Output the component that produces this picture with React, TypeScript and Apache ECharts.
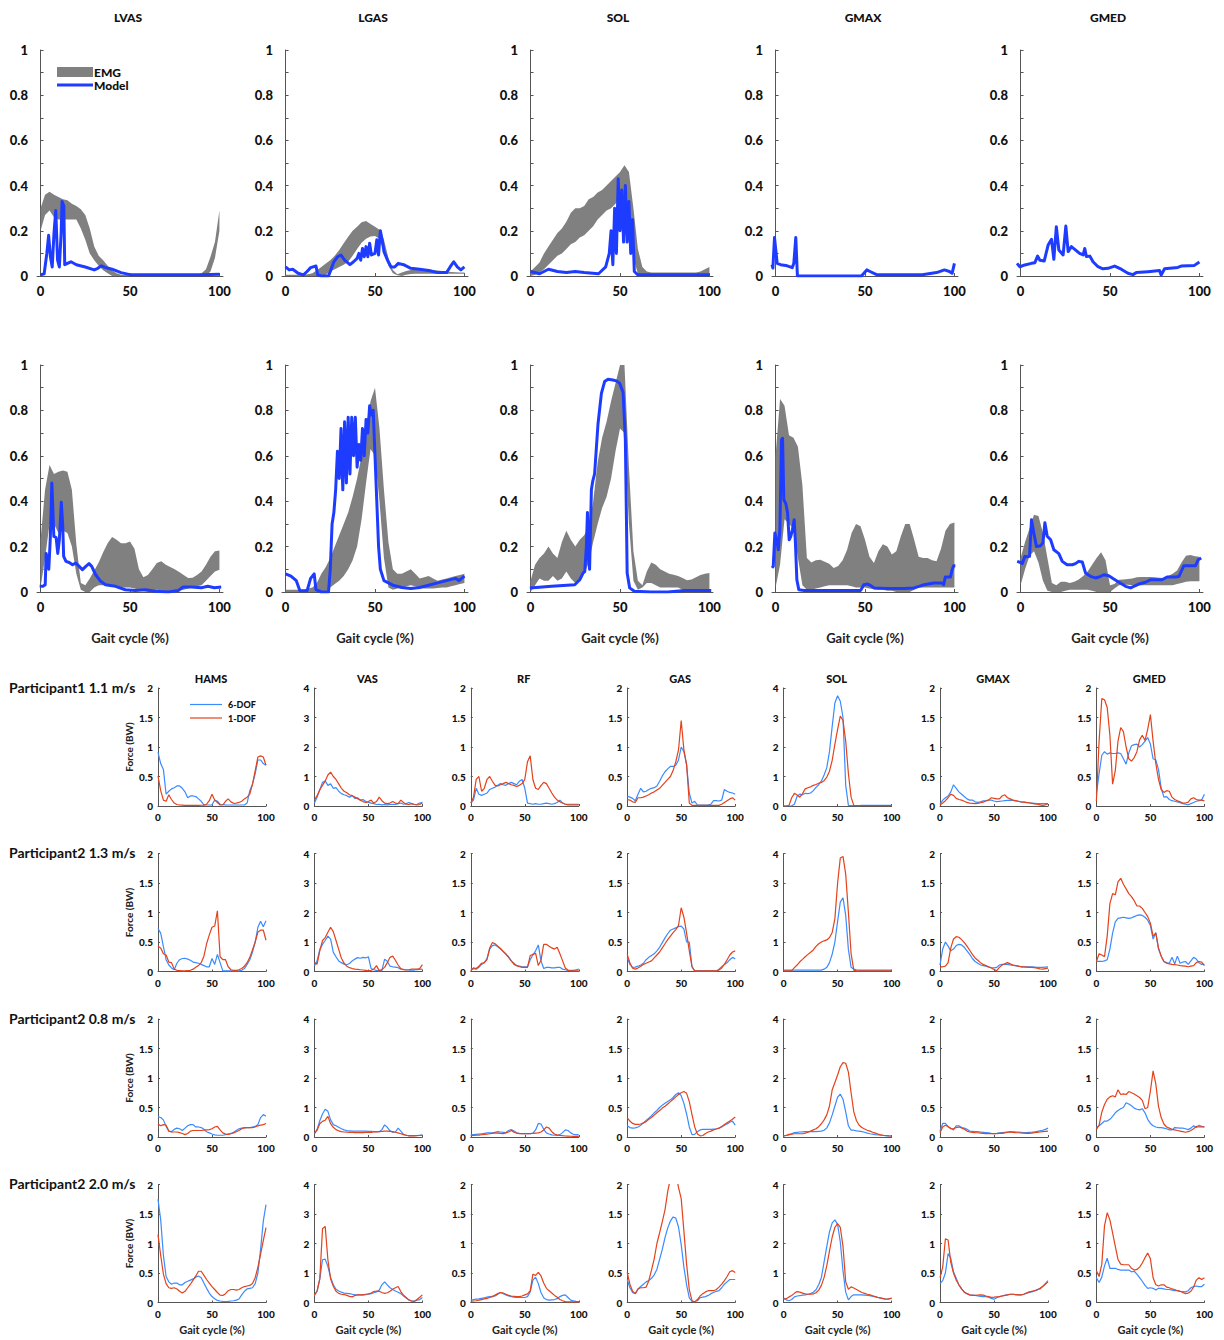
import React, { useEffect, useRef } from "react";
import * as echarts from "echarts";

// ---------- shared x grid (gait cycle %) ----------
const X_PCT = [0, 2.5, 5, 7.5, 10, 12.5, 15, 17.5, 20, 22.5, 25, 27.5, 30, 32.5, 35, 37.5, 40, 42.5, 45, 47.5, 50, 52.5, 55, 57.5, 60, 62.5, 65, 67.5, 70, 72.5, 75, 77.5, 80, 82.5, 85, 87.5, 90, 92.5, 95, 97.5, 100];

// ---------- labels ----------
const TOP_TITLES = ["LVAS", "LGAS", "SOL", "GMAX", "GMED"];
const BOTTOM_TITLES = ["HAMS", "VAS", "RF", "GAS", "SOL", "GMAX", "GMED"];
const ROW_LABELS = ["Participant1 1.1 m/s", "Participant2 1.3 m/s", "Participant2 0.8 m/s", "Participant2 2.0 m/s"];
const BOTTOM_YMAX = [2, 4, 2, 2, 4, 2, 2];
const TOP_Y_TICKS = [0, 0.2, 0.4, 0.6, 0.8, 1];
const X_TICKS = [0, 50, 100];

// ---------- top: EMG bands (upper/lower) ----------
const lvas1Hi = [0.30, 0.36, 0.373, 0.36, 0.35, 0.34, 0.335, 0.32, 0.31, 0.295, 0.27, 0.21, 0.13, 0.09, 0.07, 0.045, 0.025, 0.012, 0.006, 0.004, 0.004, 0.004, 0.004, 0.004, 0.005, 0.006, 0.006, 0.005, 0.004, 0.004, 0.004, 0.004, 0.004, 0.004, 0.004, 0.006, 0.012, 0.03, 0.085, 0.15, 0.29];
const lvas1Lo = [0.2, 0.27, 0.29, 0.26, 0.25, 0.25, 0.25, 0.25, 0.25, 0.21, 0.16, 0.1, 0.07, 0.045, 0.025, 0.012, 0, 0, 0, 0, 0, 0, 0, 0, 0, 0, 0, 0, 0, 0, 0, 0, 0, 0, 0, 0, 0, 0, 0.02, 0.08, 0.2];
const lgas1Hi = [0.005, 0.005, 0.005, 0.005, 0.006, 0.008, 0.012, 0.025, 0.04, 0.055, 0.07, 0.09, 0.115, 0.145, 0.174, 0.2, 0.218, 0.238, 0.243, 0.23, 0.218, 0.205, 0.16, 0.08, 0.027, 0.008, 0.015, 0.022, 0.027, 0.029, 0.03, 0.03, 0.03, 0.027, 0.024, 0.022, 0.02, 0.018, 0.017, 0.016, 0.015];
const lgas1Lo = [0, 0, 0, 0, 0, 0, 0, 0, 0, 0.005, 0.02, 0.03, 0.04, 0.05, 0.063, 0.09, 0.12, 0.147, 0.165, 0.175, 0.177, 0.165, 0.108, 0.045, 0.012, 0.003, 0, 0.005, 0.009, 0.01, 0.01, 0.01, 0.01, 0.01, 0.01, 0.01, 0.01, 0.01, 0.01, 0.01, 0.01];
const sol1Hi = [0.02, 0.04, 0.06, 0.1, 0.13, 0.16, 0.19, 0.21, 0.24, 0.28, 0.3, 0.3, 0.31, 0.34, 0.35, 0.37, 0.38, 0.4, 0.42, 0.44, 0.46, 0.49, 0.46, 0.3, 0.12, 0.04, 0.02, 0.015, 0.015, 0.015, 0.015, 0.015, 0.015, 0.015, 0.015, 0.015, 0.015, 0.015, 0.02, 0.03, 0.04];
const sol1Lo = [0, 0.005, 0.015, 0.03, 0.05, 0.07, 0.09, 0.1, 0.12, 0.14, 0.15, 0.17, 0.18, 0.2, 0.22, 0.25, 0.27, 0.29, 0.3, 0.32, 0.34, 0.33, 0.24, 0.08, 0.01, 0, 0, 0, 0, 0, 0, 0, 0, 0, 0, 0, 0, 0, 0.005, 0.008, 0.01];
const lvas2Hi = [0.23, 0.45, 0.56, 0.52, 0.53, 0.535, 0.53, 0.45, 0.21, 0.04, 0.03, 0.06, 0.095, 0.13, 0.175, 0.215, 0.242, 0.23, 0.215, 0.215, 0.223, 0.19, 0.1, 0.065, 0.075, 0.1, 0.128, 0.135, 0.12, 0.11, 0.1, 0.088, 0.075, 0.062, 0.063, 0.075, 0.09, 0.12, 0.155, 0.18, 0.183];
const lvas2Lo = [0.02, 0.15, 0.3, 0.3, 0.26, 0.27, 0.26, 0.2, 0.08, 0.01, 0, 0, 0.02, 0.03, 0.03, 0.03, 0.03, 0.025, 0.02, 0.02, 0.02, 0.015, 0.01, 0.005, 0, 0.005, 0.01, 0.005, 0, 0, 0.005, 0.008, 0.01, 0.015, 0.02, 0.025, 0.03, 0.05, 0.07, 0.09, 0.098];
const lgas2Hi = [0.01, 0.01, 0.01, 0.01, 0.01, 0.015, 0.02, 0.04, 0.08, 0.11, 0.15, 0.2, 0.25, 0.3, 0.35, 0.42, 0.5, 0.6, 0.72, 0.84, 0.9, 0.72, 0.45, 0.22, 0.1, 0.08, 0.08, 0.09, 0.1, 0.08, 0.06, 0.065, 0.07, 0.06, 0.05, 0.055, 0.06, 0.065, 0.07, 0.075, 0.08];
const lgas2Lo = [0, 0, 0, 0, 0, 0, 0, 0, 0, 0, 0.02, 0.035, 0.05, 0.07, 0.1, 0.14, 0.2, 0.32, 0.48, 0.63, 0.6, 0.4, 0.15, 0.02, 0.01, 0.015, 0.02, 0.025, 0.03, 0.025, 0.02, 0.015, 0.015, 0.015, 0.018, 0.02, 0.02, 0.025, 0.03, 0.035, 0.04];
const sol2Hi = [0.05, 0.12, 0.15, 0.17, 0.2, 0.17, 0.15, 0.22, 0.27, 0.23, 0.2, 0.23, 0.25, 0.29, 0.4, 0.57, 0.68, 0.75, 0.84, 0.92, 1.0, 1.0, 0.55, 0.18, 0.05, 0.03, 0.09, 0.13, 0.12, 0.1, 0.09, 0.08, 0.076, 0.07, 0.062, 0.052, 0.055, 0.065, 0.075, 0.08, 0.084];
const sol2Lo = [0, 0.03, 0.06, 0.05, 0.05, 0.07, 0.05, 0.06, 0.09, 0.06, 0.04, 0.05, 0.08, 0.13, 0.22, 0.3, 0.37, 0.42, 0.5, 0.62, 0.72, 0.7, 0.3, 0.05, 0.01, 0.02, 0.04, 0.04, 0.03, 0.02, 0.02, 0.02, 0.02, 0.02, 0.01, 0.005, 0.005, 0.005, 0.005, 0.005, 0.005];
const gmax2Hi = [0.6, 0.85, 0.82, 0.69, 0.68, 0.64, 0.47, 0.15, 0.13, 0.14, 0.142, 0.133, 0.125, 0.106, 0.115, 0.14, 0.186, 0.26, 0.3, 0.29, 0.23, 0.155, 0.128, 0.18, 0.21, 0.2, 0.165, 0.18, 0.245, 0.3, 0.3, 0.23, 0.155, 0.15, 0.15, 0.14, 0.135, 0.19, 0.27, 0.3, 0.306];
const gmax2Lo = [0.02, 0.12, 0.32, 0.3, 0.28, 0.15, 0.03, 0.01, 0.01, 0.015, 0.02, 0.025, 0.03, 0.03, 0.03, 0.03, 0.03, 0.025, 0.02, 0.02, 0.02, 0.015, 0.012, 0.01, 0.01, 0.005, 0.005, 0, 0, 0, 0, 0.01, 0.02, 0.02, 0.02, 0.02, 0.02, 0.02, 0.02, 0.02, 0.02];
const gmed2Hi = [0.15, 0.22, 0.28, 0.34, 0.335, 0.26, 0.15, 0.04, 0.03, 0.045, 0.045, 0.04, 0.045, 0.055, 0.07, 0.09, 0.12, 0.15, 0.175, 0.14, 0.03, 0.035, 0.054, 0.055, 0.057, 0.06, 0.065, 0.066, 0.066, 0.066, 0.065, 0.063, 0.062, 0.07, 0.08, 0.095, 0.13, 0.16, 0.163, 0.157, 0.155];
const gmed2Lo = [0.03, 0.1, 0.16, 0.18, 0.13, 0.05, 0.005, 0, 0, 0, 0.005, 0.01, 0.01, 0.01, 0.01, 0.01, 0.005, 0, 0, 0, 0, 0.015, 0.03, 0.032, 0.032, 0.03, 0.03, 0.03, 0.03, 0.03, 0.03, 0.03, 0.03, 0.03, 0.03, 0.035, 0.04, 0.045, 0.047, 0.047, 0.047];

// ---------- top: model activations [x, value] ----------
const lvas1Model = [[0, 0.005], [2, 0.01], [3.5, 0.1], [4.5, 0.18], [5.5, 0.085], [6.5, 0.04], [7.5, 0.19], [8.5, 0.29], [9.5, 0.07], [10.5, 0.04], [11.5, 0.19], [12, 0.33], [13, 0.31], [13.5, 0.05], [15, 0.056], [17, 0.063], [20, 0.05], [25, 0.04], [30, 0.027], [32, 0.034], [34, 0.045], [36, 0.038], [40, 0.03], [45, 0.015], [50, 0.006], [60, 0.005], [70, 0.005], [80, 0.005], [90, 0.006], [100, 0.008]];
const lgas1Model = [[0, 0.04], [2, 0.027], [4, 0.03], [7, 0.012], [10, 0.005], [12, 0.02], [14, 0.037], [17, 0.044], [18, 0.005], [20, 0], [24, 0], [25, 0.02], [27, 0.063], [29, 0.085], [31, 0.093], [33, 0.07], [36, 0.05], [38, 0.063], [40, 0.078], [41, 0.1], [42, 0.07], [43, 0.122], [44, 0.085], [45, 0.13], [46, 0.085], [47, 0.145], [48, 0.093], [50, 0.1], [51, 0.16], [52, 0.093], [53, 0.2], [54, 0.16], [55, 0.108], [57, 0.07], [59, 0.04], [61, 0.04], [63, 0.056], [66, 0.05], [70, 0.034], [75, 0.03], [80, 0.024], [85, 0.015], [90, 0.015], [92, 0.04], [94, 0.063], [96, 0.04], [98, 0.027], [100, 0.04]];
const sol1Model = [[0, 0.02], [5, 0.01], [10, 0.03], [15, 0.02], [20, 0.015], [25, 0.02], [30, 0.015], [38, 0.01], [42, 0.04], [44, 0.1], [45, 0.2], [46, 0.05], [47, 0.3], [48, 0.1], [49, 0.43], [50, 0.2], [51, 0.38], [52, 0.15], [53, 0.4], [54, 0.15], [55, 0.33], [56, 0.1], [57, 0.25], [58, 0.02], [60, 0.005], [100, 0.005]];
const gmax1Model = [[-2, 0.05], [-1.5, 0.035], [-0.6, 0.17], [0.9, 0.056], [2.8, 0.05], [6.5, 0.045], [9.3, 0.037], [10.2, 0.056], [11.3, 0.17], [12.2, 0], [48, 0], [51, 0.027], [52.8, 0.02], [56.5, 0.006], [82, 0.006], [90, 0.015], [94.4, 0.027], [97.2, 0.02], [98.7, 0.012], [100, 0.056]];
const gmed1Model = [[-2, 0.056], [-0.4, 0.041], [2.4, 0.049], [6.1, 0.056], [8, 0.059], [9.5, 0.088], [10.8, 0.07], [13.2, 0.066], [15.4, 0.137], [17.3, 0.162], [18.6, 0.074], [20, 0.218], [21.4, 0.115], [23.8, 0.093], [25.3, 0.221], [26.6, 0.108], [28.4, 0.13], [30.3, 0.118], [33, 0.1], [35, 0.093], [35.9, 0.122], [36.8, 0.086], [38.7, 0.088], [40.5, 0.063], [43.3, 0.041], [46, 0.032], [48.9, 0.034], [52.6, 0.044], [56.3, 0.03], [60, 0.012], [62.8, 0.006], [64.7, 0.015], [71.2, 0.019], [77.7, 0.024], [78.6, 0.004], [80.5, 0.032], [87.9, 0.038], [89.8, 0.044], [97.2, 0.047], [100, 0.062]];
const lvas2Model = [[-0.5, 0.025], [1.3, 0.025], [2.6, 0.032], [3.1, 0.17], [4, 0.14], [4.6, 0.1], [5.4, 0.23], [6.3, 0.48], [6.8, 0.38], [7.4, 0.245], [8.7, 0.24], [9.6, 0.17], [10.5, 0.23], [11.6, 0.395], [12.4, 0.29], [12.9, 0.157], [14.2, 0.135], [16, 0.13], [17.9, 0.12], [19.7, 0.128], [21.6, 0.113], [23.4, 0.098], [25.3, 0.113], [27.1, 0.125], [28.6, 0.113], [30.8, 0.076], [33.6, 0.047], [36.3, 0.032], [41.9, 0.025], [47.4, 0.01], [53, 0.007], [58.5, 0.01], [64, 0.003], [71.4, 0], [77, 0.007], [79.7, 0.022], [84.3, 0.022], [89.9, 0.019], [93.5, 0.025], [97.2, 0.019], [101, 0.022]];
const lgas2Model = [[0, 0.08], [3, 0.07], [6, 0.05], [8, 0.005], [12, 0.005], [14, 0.06], [16, 0.08], [17, 0.01], [20, 0], [24, 0], [25, 0.1], [26, 0.3], [27, 0.35], [28, 0.45], [29, 0.62], [30, 0.5], [31, 0.72], [32, 0.45], [33, 0.75], [34, 0.48], [35, 0.77], [36, 0.52], [37, 0.77], [38, 0.6], [39, 0.77], [40, 0.55], [41, 0.65], [42, 0.58], [43, 0.72], [44, 0.6], [45, 0.76], [46, 0.7], [47, 0.82], [48, 0.78], [49, 0.8], [50, 0.6], [51, 0.4], [52, 0.2], [53, 0.1], [55, 0.05], [60, 0.03], [65, 0.02], [70, 0.015], [75, 0.02], [80, 0.03], [85, 0.04], [90, 0.05], [95, 0.06], [97, 0.05], [100, 0.07]];
const sol2Model = [[-0.4, 0.018], [11.7, 0.025], [24.7, 0.032], [27.5, 0.054], [29.4, 0.084], [30.3, 0.09], [31.2, 0.2], [31.8, 0.35], [32.5, 0.14], [33, 0.1], [34, 0.45], [34.8, 0.49], [35.8, 0.52], [37.7, 0.74], [39.6, 0.875], [41.4, 0.927], [43.3, 0.937], [46, 0.934], [48, 0.93], [49.8, 0.92], [51.7, 0.88], [53, 0.67], [53.5, 0.38], [54, 0.084], [55.4, 0.018], [58, 0.003], [67.5, 0], [76.8, 0], [86, 0.007], [95.4, 0.007], [101, 0.007]];
const gmax2Model = [[-2, 0.106], [-1.3, 0.113], [-0.4, 0.26], [0.6, 0.23], [1.5, 0.186], [2.4, 0.274], [3.3, 0.67], [3.9, 0.677], [4.6, 0.406], [5.7, 0.39], [6.7, 0.35], [7.6, 0.23], [8.5, 0.245], [9.4, 0.274], [10.4, 0.318], [11.1, 0.215], [11.9, 0.054], [13, 0.01], [16, 0.007], [25.4, 0.007], [34.6, 0.007], [47.6, 0.007], [49.3, 0.032], [51.5, 0.035], [53.3, 0.028], [55.2, 0.018], [62.6, 0.015], [71.9, 0.015], [77.4, 0.018], [80.2, 0.025], [83, 0.032], [88.5, 0.04], [93, 0.04], [94, 0.032], [94.9, 0.066], [97.8, 0.066], [98.7, 0.098], [99.6, 0.116], [100.5, 0.116]];
const gmed2Model = [[-1.9, 0.135], [0, 0.13], [0.9, 0.125], [2.4, 0.157], [3.7, 0.155], [5, 0.157], [6.1, 0.318], [7.4, 0.26], [8.9, 0.2], [11.2, 0.204], [12.5, 0.217], [13.6, 0.305], [14.9, 0.246], [16.8, 0.23], [18.6, 0.186], [21.4, 0.169], [23.3, 0.135], [26, 0.12], [28.9, 0.12], [30.7, 0.125], [32.6, 0.135], [34.5, 0.132], [36.3, 0.084], [39.1, 0.069], [41.9, 0.062], [43.8, 0.066], [46.6, 0.076], [49.3, 0.072], [52.1, 0.057], [55, 0.043], [58.7, 0.025], [61.5, 0.018], [63.3, 0.025], [66.1, 0.035], [69.8, 0.043], [72.6, 0.054], [79.1, 0.054], [81.9, 0.066], [86.6, 0.066], [88.5, 0.068], [91.3, 0.116], [97.8, 0.116], [99.3, 0.142], [101, 0.15]];

// ---------- bottom: muscle forces (BW), 6-DOF and 1-DOF, on X_PCT ----------
// Participant1 1.1 m/s
const hams1Dof6 = [0.91, 0.72, 0.62, 0.2, 0.25, 0.29, 0.31, 0.34, 0.34, 0.3, 0.24, 0.14, 0.17, 0.17, 0.16, 0.12, 0.08, 0.02, 0.017, 0.017, 0.02, 0.1, 0.08, 0.03, 0.025, 0.02, 0.017, 0.017, 0.017, 0.017, 0.017, 0.017, 0.017, 0.05, 0.26, 0.37, 0.55, 0.78, 0.78, 0.72, 0.69];
const hams1Dof1 = [0.51, 0.26, 0.1, 0.08, 0.19, 0.11, 0.05, 0.025, 0.017, 0.015, 0.012, 0.011, 0.011, 0.011, 0.011, 0.012, 0.013, 0.015, 0.03, 0.09, 0.2, 0.1, 0.06, 0.017, 0.017, 0.08, 0.12, 0.07, 0.045, 0.05, 0.06, 0.08, 0.12, 0.15, 0.2, 0.37, 0.6, 0.83, 0.85, 0.83, 0.69];
const vas1Dof6 = [0.1, 0.3, 0.55, 0.8, 0.85, 0.7, 0.75, 0.6, 0.62, 0.5, 0.42, 0.38, 0.35, 0.3, 0.35, 0.25, 0.28, 0.2, 0.22, 0.15, 0.12, 0.1, 0.08, 0.05, 0.06, 0.04, 0.05, 0.04, 0.05, 0.06, 0.05, 0.08, 0.1, 0.06, 0.08, 0.12, 0.08, 0.05, 0.06, 0.1, 0.12];
const vas1Dof1 = [0.2, 0.35, 0.55, 0.7, 0.85, 1.05, 1.15, 1.0, 0.9, 0.75, 0.6, 0.5, 0.45, 0.38, 0.35, 0.3, 0.25, 0.2, 0.15, 0.12, 0.15, 0.2, 0.1, 0.15, 0.3, 0.18, 0.1, 0.08, 0.1, 0.15, 0.1, 0.08, 0.2, 0.12, 0.06, 0.05, 0.08, 0.05, 0.04, 0.05, 0.1];
const rf1Dof6 = [0.05, 0.1, 0.3, 0.2, 0.18, 0.2, 0.22, 0.28, 0.3, 0.32, 0.35, 0.38, 0.36, 0.35, 0.38, 0.4, 0.38, 0.36, 0.42, 0.45, 0.3, 0.05, 0.04, 0.03, 0.04, 0.03, 0.03, 0.04, 0.05, 0.04, 0.03, 0.04, 0.06, 0.1, 0.05, 0.03, 0.03, 0.03, 0.03, 0.03, 0.03];
const rf1Dof1 = [0.05, 0.15, 0.45, 0.5, 0.25, 0.3, 0.45, 0.5, 0.42, 0.35, 0.34, 0.36, 0.38, 0.4, 0.38, 0.36, 0.35, 0.33, 0.35, 0.38, 0.45, 0.75, 0.85, 0.45, 0.3, 0.28, 0.35, 0.4, 0.38, 0.3, 0.22, 0.15, 0.1, 0.07, 0.05, 0.03, 0.02, 0.02, 0.02, 0.02, 0.02];
const gas1Dof6 = [0.17, 0.15, 0.13, 0.09, 0.2, 0.3, 0.24, 0.25, 0.28, 0.3, 0.31, 0.34, 0.42, 0.51, 0.58, 0.63, 0.67, 0.67, 0.69, 0.78, 1.0, 0.92, 0.7, 0.22, 0.05, 0.08, 0.017, 0.017, 0.017, 0.017, 0.02, 0.03, 0.09, 0.09, 0.085, 0.1, 0.28, 0.25, 0.23, 0.22, 0.2];
const gas1Dof1 = [0.11, 0.1, 0.07, 0.06, 0.14, 0.14, 0.15, 0.17, 0.19, 0.22, 0.24, 0.27, 0.3, 0.35, 0.4, 0.45, 0.5, 0.6, 0.75, 0.95, 1.45, 0.95, 0.7, 0.05, 0.011, 0.011, 0.011, 0.011, 0.011, 0.011, 0.011, 0.011, 0.011, 0.011, 0.011, 0.03, 0.06, 0.09, 0.12, 0.14, 0.1];
const sol1Dof6 = [0, 0, 0, 0.005, 0.06, 0.33, 0.4, 0.38, 0.43, 0.42, 0.44, 0.52, 0.63, 0.72, 0.85, 1.05, 1.3, 1.85, 2.7, 3.5, 3.74, 3.55, 3.0, 0.7, 0.02, 0.015, 0.015, 0.015, 0.015, 0.02, 0.02, 0.02, 0.02, 0.02, 0.02, 0.02, 0.02, 0.02, 0.02, 0.02, 0.02];
const sol1Dof1 = [0, 0, 0.02, 0.28, 0.43, 0.37, 0.3, 0.42, 0.58, 0.62, 0.65, 0.7, 0.73, 0.77, 0.8, 0.86, 0.98, 1.18, 1.55, 2.1, 2.6, 3.05, 2.9, 2.2, 1.1, 0.3, 0.02, 0.01, 0.01, 0.01, 0.01, 0.01, 0.01, 0.01, 0.01, 0.01, 0.01, 0.01, 0.01, 0.01, 0.01];
const gmax1Dof6 = [0.03, 0.1, 0.14, 0.17, 0.24, 0.36, 0.3, 0.24, 0.2, 0.16, 0.12, 0.1, 0.1, 0.07, 0.06, 0.07, 0.086, 0.09, 0.1, 0.1, 0.085, 0.074, 0.08, 0.085, 0.09, 0.095, 0.1, 0.095, 0.086, 0.08, 0.07, 0.065, 0.057, 0.053, 0.05, 0.045, 0.04, 0.04, 0.04, 0.04, 0.04];
const gmax1Dof1 = [0.017, 0.05, 0.09, 0.14, 0.2, 0.18, 0.13, 0.11, 0.1, 0.08, 0.06, 0.05, 0.045, 0.04, 0.045, 0.055, 0.065, 0.085, 0.1, 0.14, 0.13, 0.12, 0.12, 0.17, 0.19, 0.14, 0.12, 0.1, 0.09, 0.08, 0.07, 0.065, 0.06, 0.055, 0.045, 0.035, 0.03, 0.02, 0.01, 0.02, 0.04];
const gmed1Dof6 = [0.2, 0.55, 0.86, 0.92, 0.88, 0.9, 0.89, 0.89, 0.9, 0.89, 0.8, 0.71, 0.9, 1.02, 1.04, 1.05, 1.0, 1.04, 1.1, 1.16, 1.05, 0.8, 0.78, 0.62, 0.3, 0.15, 0.16, 0.11, 0.09, 0.08, 0.07, 0.055, 0.04, 0.03, 0.02, 0.04, 0.06, 0.08, 0.09, 0.1, 0.2];
const gmed1Dof1 = [0.086, 1.1, 1.82, 1.8, 1.67, 1.2, 0.37, 0.6, 1.1, 1.33, 1.26, 1.0, 0.8, 0.76, 0.82, 0.92, 1.12, 1.2, 1.11, 1.3, 1.55, 1.1, 0.72, 0.45, 0.28, 0.23, 0.26, 0.25, 0.15, 0.11, 0.09, 0.07, 0.05, 0.05, 0.065, 0.12, 0.14, 0.11, 0.1, 0.1, 0.086];
// Participant2 1.3 m/s
const hams2Dof6 = [0.73, 0.65, 0.42, 0.2, 0.11, 0.06, 0.03, 0.14, 0.2, 0.22, 0.225, 0.21, 0.19, 0.16, 0.15, 0.14, 0.12, 0.1, 0.08, 0.08, 0.22, 0.12, 0.29, 0.15, 0.01, 0.01, 0.01, 0.01, 0.01, 0.01, 0.01, 0.02, 0.05, 0.12, 0.2, 0.33, 0.5, 0.75, 0.85, 0.76, 0.86];
const hams2Dof1 = [0.43, 0.4, 0.3, 0.28, 0.16, 0.15, 0.04, 0.02, 0.015, 0.01, 0.01, 0.015, 0.02, 0.04, 0.07, 0.1, 0.15, 0.26, 0.47, 0.62, 0.75, 0.77, 1.03, 0.25, 0.2, 0.2, 0.08, 0.03, 0.02, 0.02, 0.03, 0.05, 0.09, 0.15, 0.24, 0.37, 0.5, 0.67, 0.7, 0.7, 0.53];
const vas2Dof6 = [0.19, 0.36, 0.75, 0.92, 1.05, 1.2, 1.1, 0.65, 0.5, 0.36, 0.3, 0.25, 0.23, 0.27, 0.36, 0.42, 0.47, 0.45, 0.48, 0.46, 0.5, 0.1, 0.06, 0.04, 0.03, 0.03, 0.42, 0.35, 0.18, 0.16, 0.15, 0.13, 0.08, 0.07, 0.06, 0.05, 0.05, 0.05, 0.06, 0.07, 0.08];
const vas2Dof1 = [0.3, 0.25, 0.7, 1.05, 1.15, 1.33, 1.5, 1.35, 1.05, 0.75, 0.45, 0.28, 0.18, 0.13, 0.1, 0.08, 0.07, 0.06, 0.05, 0.04, 0.02, 0.04, 0.08, 0.2, 0.03, 0.07, 0.14, 0.3, 0.48, 0.52, 0.38, 0.22, 0.1, 0.06, 0.05, 0.06, 0.08, 0.08, 0.08, 0.1, 0.23];
const rf2Dof6 = [0.04, 0.05, 0.04, 0.07, 0.12, 0.15, 0.22, 0.38, 0.44, 0.45, 0.42, 0.38, 0.34, 0.3, 0.25, 0.18, 0.14, 0.1, 0.09, 0.08, 0.08, 0.08, 0.2, 0.28, 0.35, 0.45, 0.18, 0.05, 0.07, 0.07, 0.06, 0.06, 0.07, 0.07, 0.04, 0.03, 0.02, 0.02, 0.02, 0.03, 0.04];
const rf2Dof1 = [0.01, 0.06, 0.05, 0.09, 0.14, 0.15, 0.2, 0.4, 0.49, 0.47, 0.43, 0.39, 0.34, 0.29, 0.24, 0.18, 0.12, 0.1, 0.08, 0.07, 0.07, 0.07, 0.27, 0.29, 0.31, 0.1, 0.19, 0.46, 0.46, 0.43, 0.4, 0.38, 0.41, 0.3, 0.18, 0.06, 0.02, 0.01, 0.01, 0.01, 0.01];
const gas2Dof6 = [0.24, 0.12, 0.07, 0.075, 0.09, 0.11, 0.14, 0.2, 0.24, 0.27, 0.3, 0.35, 0.41, 0.49, 0.57, 0.64, 0.7, 0.72, 0.74, 0.76, 0.77, 0.72, 0.5, 0.5, 0.08, 0.01, 0.01, 0.01, 0.01, 0.01, 0.01, 0.01, 0.01, 0.01, 0.04, 0.08, 0.12, 0.15, 0.2, 0.24, 0.21];
const gas2Dof1 = [0.29, 0.15, 0.056, 0.04, 0.06, 0.09, 0.12, 0.14, 0.16, 0.18, 0.23, 0.28, 0.33, 0.4, 0.47, 0.54, 0.6, 0.66, 0.71, 0.78, 1.08, 0.92, 0.65, 0.35, 0.08, 0.01, 0.01, 0.01, 0.01, 0.01, 0.01, 0.01, 0.01, 0.01, 0.025, 0.06, 0.12, 0.2, 0.28, 0.33, 0.35];
const sol2Dof6 = [0.045, 0.045, 0.045, 0.045, 0.045, 0.045, 0.045, 0.045, 0.045, 0.045, 0.045, 0.045, 0.045, 0.045, 0.045, 0.08, 0.14, 0.3, 0.59, 1.0, 1.7, 2.35, 2.5, 1.9, 0.75, 0.14, 0.08, 0.06, 0.045, 0.045, 0.045, 0.045, 0.045, 0.045, 0.045, 0.045, 0.045, 0.045, 0.045, 0.045, 0.045];
const sol2Dof1 = [0.02, 0.02, 0.02, 0.03, 0.13, 0.22, 0.33, 0.41, 0.5, 0.58, 0.65, 0.73, 0.85, 0.94, 1.0, 1.04, 1.07, 1.15, 1.32, 1.8, 3.0, 3.85, 3.9, 3.3, 2.0, 0.6, 0.045, 0.02, 0.02, 0.02, 0.02, 0.02, 0.02, 0.02, 0.02, 0.02, 0.02, 0.02, 0.02, 0.02, 0.02];
const gmax2Dof6 = [0.11, 0.38, 0.5, 0.43, 0.35, 0.38, 0.44, 0.46, 0.45, 0.41, 0.35, 0.29, 0.22, 0.17, 0.14, 0.11, 0.1, 0.09, 0.075, 0.065, 0.06, 0.07, 0.11, 0.12, 0.12, 0.12, 0.11, 0.105, 0.1, 0.09, 0.08, 0.08, 0.08, 0.08, 0.08, 0.075, 0.07, 0.07, 0.07, 0.075, 0.08];
const gmax2Dof1 = [0.08, 0.08, 0.09, 0.15, 0.4, 0.55, 0.59, 0.58, 0.54, 0.49, 0.43, 0.36, 0.29, 0.23, 0.19, 0.15, 0.12, 0.1, 0.08, 0.06, 0.035, 0.015, 0.07, 0.11, 0.13, 0.15, 0.13, 0.11, 0.1, 0.09, 0.08, 0.08, 0.075, 0.07, 0.07, 0.065, 0.055, 0.045, 0.04, 0.05, 0.056];
const gmed2Dof6 = [0.17, 0.17, 0.17, 0.18, 0.2, 0.38, 0.65, 0.84, 0.9, 0.91, 0.92, 0.91, 0.9, 0.91, 0.93, 0.95, 0.96, 0.95, 0.92, 0.87, 0.78, 0.55, 0.66, 0.38, 0.26, 0.17, 0.15, 0.14, 0.24, 0.13, 0.26, 0.14, 0.16, 0.17, 0.12, 0.18, 0.24, 0.21, 0.15, 0.12, 0.12];
const gmed2Dof1 = [0.17, 0.3, 0.28, 0.25, 0.6, 1.15, 1.32, 1.3, 1.52, 1.58, 1.48, 1.4, 1.32, 1.27, 1.2, 1.11, 1.11, 1.07, 1.0, 0.93, 0.82, 0.6, 0.65, 0.4, 0.26, 0.17, 0.14, 0.13, 0.12, 0.115, 0.11, 0.1, 0.095, 0.09, 0.08, 0.09, 0.1, 0.15, 0.17, 0.16, 0.1];
// Participant2 0.8 m/s
const hams3Dof6 = [0.34, 0.33, 0.29, 0.18, 0.1, 0.09, 0.13, 0.15, 0.14, 0.11, 0.15, 0.19, 0.21, 0.21, 0.17, 0.17, 0.16, 0.13, 0.09, 0.07, 0.05, 0.035, 0.03, 0.03, 0.03, 0.04, 0.05, 0.06, 0.08, 0.11, 0.14, 0.15, 0.16, 0.16, 0.16, 0.17, 0.18, 0.21, 0.33, 0.38, 0.35];
const hams3Dof1 = [0.22, 0.19, 0.21, 0.2, 0.1, 0.085, 0.085, 0.085, 0.075, 0.06, 0.04, 0.06, 0.1, 0.11, 0.11, 0.11, 0.11, 0.115, 0.12, 0.125, 0.14, 0.17, 0.18, 0.12, 0.07, 0.05, 0.045, 0.055, 0.07, 0.09, 0.11, 0.14, 0.155, 0.16, 0.16, 0.16, 0.17, 0.19, 0.2, 0.21, 0.23];
const vas3Dof6 = [0.11, 0.26, 0.55, 0.78, 0.94, 0.87, 0.58, 0.42, 0.38, 0.33, 0.28, 0.24, 0.22, 0.21, 0.2, 0.2, 0.2, 0.2, 0.2, 0.2, 0.19, 0.19, 0.18, 0.18, 0.18, 0.25, 0.41, 0.33, 0.21, 0.16, 0.17, 0.3, 0.2, 0.09, 0.06, 0.045, 0.045, 0.045, 0.05, 0.06, 0.07];
const vas3Dof1 = [0.11, 0.23, 0.45, 0.53, 0.57, 0.7, 0.45, 0.33, 0.25, 0.21, 0.18, 0.17, 0.165, 0.16, 0.155, 0.15, 0.15, 0.15, 0.15, 0.155, 0.16, 0.16, 0.17, 0.17, 0.18, 0.19, 0.2, 0.2, 0.19, 0.18, 0.16, 0.14, 0.11, 0.08, 0.06, 0.04, 0.035, 0.04, 0.045, 0.05, 0.06];
const rf3Dof6 = [0.035, 0.04, 0.045, 0.05, 0.055, 0.06, 0.07, 0.07, 0.07, 0.08, 0.09, 0.085, 0.08, 0.075, 0.11, 0.125, 0.1, 0.07, 0.06, 0.057, 0.057, 0.057, 0.057, 0.065, 0.12, 0.23, 0.22, 0.13, 0.07, 0.05, 0.035, 0.03, 0.025, 0.04, 0.074, 0.12, 0.11, 0.07, 0.045, 0.04, 0.035];
const rf3Dof1 = [0.023, 0.025, 0.03, 0.033, 0.038, 0.043, 0.047, 0.055, 0.062, 0.07, 0.066, 0.06, 0.058, 0.07, 0.085, 0.11, 0.08, 0.065, 0.057, 0.057, 0.057, 0.057, 0.057, 0.06, 0.065, 0.07, 0.085, 0.12, 0.17, 0.15, 0.09, 0.05, 0.035, 0.028, 0.022, 0.017, 0.015, 0.013, 0.012, 0.011, 0.01];
const gas3Dof6 = [0.19, 0.16, 0.15, 0.155, 0.17, 0.2, 0.24, 0.28, 0.32, 0.36, 0.41, 0.45, 0.5, 0.54, 0.57, 0.6, 0.63, 0.67, 0.72, 0.75, 0.7, 0.57, 0.39, 0.17, 0.04, 0.045, 0.09, 0.12, 0.13, 0.13, 0.13, 0.13, 0.135, 0.14, 0.15, 0.17, 0.2, 0.22, 0.25, 0.27, 0.2];
const gas3Dof1 = [0.33, 0.27, 0.23, 0.215, 0.215, 0.22, 0.24, 0.26, 0.3, 0.33, 0.37, 0.41, 0.45, 0.49, 0.52, 0.56, 0.6, 0.64, 0.68, 0.72, 0.75, 0.77, 0.74, 0.6, 0.38, 0.17, 0.05, 0.02, 0.025, 0.06, 0.085, 0.1, 0.12, 0.135, 0.15, 0.18, 0.21, 0.24, 0.27, 0.3, 0.34];
const sol3Dof6 = [0.034, 0.05, 0.07, 0.11, 0.15, 0.16, 0.17, 0.175, 0.18, 0.18, 0.18, 0.18, 0.18, 0.19, 0.2, 0.23, 0.31, 0.48, 0.75, 1.05, 1.35, 1.45, 1.28, 0.85, 0.38, 0.23, 0.23, 0.21, 0.2, 0.18, 0.16, 0.13, 0.11, 0.1, 0.08, 0.07, 0.06, 0.05, 0.04, 0.035, 0.034];
const sol3Dof1 = [0.034, 0.06, 0.09, 0.1, 0.11, 0.11, 0.11, 0.11, 0.13, 0.16, 0.2, 0.24, 0.28, 0.35, 0.45, 0.58, 0.75, 1.05, 1.6, 1.85, 2.1, 2.38, 2.52, 2.5, 2.2, 1.5, 0.85, 0.55, 0.4, 0.32, 0.27, 0.23, 0.2, 0.16, 0.13, 0.1, 0.075, 0.06, 0.05, 0.04, 0.034];
const gmax3Dof6 = [0.1, 0.23, 0.23, 0.17, 0.15, 0.12, 0.19, 0.19, 0.16, 0.15, 0.13, 0.1, 0.097, 0.093, 0.09, 0.085, 0.08, 0.075, 0.07, 0.063, 0.057, 0.063, 0.07, 0.075, 0.08, 0.085, 0.09, 0.088, 0.086, 0.085, 0.08, 0.075, 0.074, 0.078, 0.082, 0.088, 0.095, 0.105, 0.115, 0.13, 0.15];
const gmax3Dof1 = [0.074, 0.17, 0.2, 0.18, 0.14, 0.14, 0.16, 0.17, 0.155, 0.13, 0.1, 0.085, 0.08, 0.075, 0.072, 0.066, 0.06, 0.057, 0.057, 0.057, 0.057, 0.058, 0.06, 0.06, 0.07, 0.08, 0.085, 0.08, 0.075, 0.072, 0.068, 0.064, 0.06, 0.06, 0.066, 0.073, 0.08, 0.085, 0.09, 0.095, 0.1];
const gmed3Dof6 = [0.16, 0.19, 0.23, 0.27, 0.27, 0.3, 0.35, 0.41, 0.45, 0.48, 0.5, 0.58, 0.56, 0.53, 0.49, 0.47, 0.46, 0.48, 0.41, 0.3, 0.23, 0.19, 0.17, 0.16, 0.16, 0.15, 0.14, 0.12, 0.12, 0.16, 0.155, 0.15, 0.15, 0.14, 0.125, 0.15, 0.19, 0.16, 0.2, 0.18, 0.17];
const gmed3Dof1 = [0.13, 0.2, 0.42, 0.55, 0.64, 0.68, 0.7, 0.68, 0.8, 0.72, 0.73, 0.72, 0.77, 0.75, 0.73, 0.7, 0.67, 0.62, 0.48, 0.5, 0.78, 1.12, 0.9, 0.52, 0.33, 0.22, 0.17, 0.15, 0.13, 0.12, 0.11, 0.1, 0.09, 0.08, 0.09, 0.11, 0.14, 0.18, 0.17, 0.17, 0.17];
// Participant2 2.0 m/s
const hams4Dof6 = [1.75, 1.4, 0.8, 0.44, 0.35, 0.31, 0.33, 0.33, 0.3, 0.3, 0.34, 0.36, 0.38, 0.4, 0.43, 0.45, 0.42, 0.33, 0.24, 0.16, 0.1, 0.065, 0.035, 0.025, 0.02, 0.017, 0.02, 0.025, 0.03, 0.04, 0.06, 0.13, 0.19, 0.23, 0.24, 0.25, 0.32, 0.5, 0.9, 1.38, 1.66];
const hams4Dof1 = [1.15, 0.8, 0.48, 0.32, 0.25, 0.24, 0.25, 0.23, 0.19, 0.16, 0.19, 0.25, 0.31, 0.38, 0.45, 0.53, 0.53, 0.46, 0.39, 0.33, 0.27, 0.22, 0.17, 0.125, 0.12, 0.15, 0.2, 0.22, 0.22, 0.21, 0.22, 0.25, 0.27, 0.28, 0.29, 0.32, 0.42, 0.6, 0.82, 1.05, 1.27];
const vas4Dof6 = [0.23, 0.39, 0.8, 1.45, 1.47, 1.22, 0.85, 0.6, 0.45, 0.39, 0.35, 0.32, 0.31, 0.3, 0.28, 0.26, 0.26, 0.26, 0.26, 0.27, 0.28, 0.3, 0.33, 0.36, 0.42, 0.6, 0.7, 0.6, 0.5, 0.44, 0.39, 0.35, 0.3, 0.22, 0.15, 0.08, 0.05, 0.05, 0.08, 0.1, 0.17];
const vas4Dof1 = [0.26, 0.39, 0.8, 2.5, 2.58, 1.45, 0.8, 0.55, 0.38, 0.31, 0.28, 0.27, 0.24, 0.21, 0.19, 0.24, 0.26, 0.26, 0.26, 0.28, 0.29, 0.32, 0.37, 0.39, 0.38, 0.34, 0.31, 0.33, 0.38, 0.45, 0.5, 0.54, 0.37, 0.25, 0.17, 0.09, 0.05, 0.035, 0.1, 0.18, 0.26];
const rf4Dof6 = [0.04, 0.05, 0.056, 0.06, 0.07, 0.08, 0.09, 0.1, 0.105, 0.11, 0.14, 0.17, 0.15, 0.13, 0.11, 0.1, 0.09, 0.085, 0.085, 0.085, 0.085, 0.1, 0.18, 0.38, 0.43, 0.32, 0.17, 0.08, 0.05, 0.04, 0.045, 0.05, 0.065, 0.1, 0.12, 0.13, 0.085, 0.04, 0.028, 0.02, 0.017];
const rf4Dof1 = [0.017, 0.025, 0.03, 0.04, 0.05, 0.06, 0.07, 0.085, 0.1, 0.125, 0.15, 0.17, 0.16, 0.14, 0.12, 0.11, 0.105, 0.1, 0.1, 0.11, 0.13, 0.145, 0.2, 0.48, 0.46, 0.51, 0.45, 0.33, 0.24, 0.2, 0.16, 0.12, 0.09, 0.05, 0.03, 0.015, 0.011, 0.01, 0.01, 0.01, 0.01];
const gas4Dof6 = [0.39, 0.25, 0.17, 0.15, 0.23, 0.27, 0.31, 0.35, 0.37, 0.41, 0.47, 0.56, 0.73, 0.9, 1.1, 1.26, 1.38, 1.45, 1.43, 1.28, 0.98, 0.6, 0.3, 0.08, 0.02, 0.017, 0.03, 0.08, 0.09, 0.1, 0.12, 0.15, 0.17, 0.19, 0.2, 0.25, 0.31, 0.35, 0.39, 0.39, 0.39];
const gas4Dof1 = [0.51, 0.31, 0.19, 0.15, 0.23, 0.25, 0.25, 0.26, 0.37, 0.55, 0.74, 1.0, 1.18, 1.37, 1.57, 1.88, 2.1, 2.25, 2.2, 1.95, 1.76, 1.21, 0.65, 0.22, 0.03, 0.01, 0.05, 0.11, 0.15, 0.18, 0.2, 0.2, 0.2, 0.22, 0.26, 0.31, 0.37, 0.44, 0.52, 0.54, 0.51];
const sol4Dof6 = [0.15, 0.09, 0.06, 0.1, 0.19, 0.22, 0.23, 0.25, 0.26, 0.28, 0.3, 0.35, 0.43, 0.6, 0.85, 1.38, 1.9, 2.4, 2.7, 2.8, 2.65, 2.05, 1.07, 0.35, 0.09, 0.2, 0.26, 0.26, 0.26, 0.26, 0.25, 0.24, 0.23, 0.21, 0.19, 0.17, 0.15, 0.13, 0.11, 0.12, 0.15];
const sol4Dof1 = [0.11, 0.13, 0.19, 0.24, 0.31, 0.37, 0.35, 0.32, 0.29, 0.28, 0.28, 0.29, 0.33, 0.42, 0.58, 0.85, 1.25, 1.75, 2.22, 2.55, 2.67, 2.55, 1.9, 0.7, 0.45, 0.53, 0.49, 0.44, 0.39, 0.34, 0.31, 0.28, 0.26, 0.23, 0.2, 0.17, 0.15, 0.13, 0.11, 0.12, 0.15];
const gmax4Dof6 = [0.32, 0.37, 0.5, 0.83, 0.75, 0.52, 0.41, 0.3, 0.23, 0.17, 0.15, 0.13, 0.125, 0.12, 0.11, 0.105, 0.1, 0.1, 0.09, 0.07, 0.056, 0.08, 0.1, 0.11, 0.12, 0.13, 0.14, 0.14, 0.135, 0.13, 0.13, 0.14, 0.155, 0.17, 0.18, 0.195, 0.21, 0.24, 0.27, 0.32, 0.37];
const gmax4Dof1 = [0.42, 0.6, 1.08, 1.06, 0.68, 0.5, 0.38, 0.3, 0.23, 0.18, 0.15, 0.13, 0.12, 0.12, 0.125, 0.13, 0.125, 0.11, 0.1, 0.087, 0.09, 0.095, 0.1, 0.11, 0.12, 0.13, 0.14, 0.14, 0.135, 0.13, 0.13, 0.14, 0.16, 0.18, 0.19, 0.2, 0.22, 0.23, 0.27, 0.31, 0.35];
const gmed4Dof6 = [0.42, 0.34, 0.43, 0.62, 0.75, 0.58, 0.58, 0.58, 0.56, 0.55, 0.55, 0.55, 0.55, 0.52, 0.53, 0.48, 0.42, 0.36, 0.29, 0.24, 0.25, 0.24, 0.21, 0.24, 0.24, 0.23, 0.22, 0.22, 0.21, 0.2, 0.2, 0.19, 0.185, 0.18, 0.2, 0.25, 0.27, 0.28, 0.27, 0.27, 0.31];
const gmed4Dof1 = [0.54, 0.44, 0.65, 1.3, 1.52, 1.4, 1.18, 0.95, 0.73, 0.65, 0.64, 0.64, 0.64, 0.58, 0.55, 0.56, 0.6, 0.67, 0.76, 0.84, 0.74, 0.42, 0.3, 0.28, 0.3, 0.3, 0.26, 0.25, 0.23, 0.22, 0.2, 0.19, 0.17, 0.15, 0.16, 0.19, 0.26, 0.38, 0.42, 0.39, 0.42];

// ---------- assemble ----------
const TOP_PANELS = [
  { hi: lvas1Hi, lo: lvas1Lo, model: lvas1Model },
  { hi: lgas1Hi, lo: lgas1Lo, model: lgas1Model },
  { hi: sol1Hi, lo: sol1Lo, model: sol1Model },
  { hi: null, lo: null, model: gmax1Model },
  { hi: null, lo: null, model: gmed1Model },
  { hi: lvas2Hi, lo: lvas2Lo, model: lvas2Model },
  { hi: lgas2Hi, lo: lgas2Lo, model: lgas2Model },
  { hi: sol2Hi, lo: sol2Lo, model: sol2Model },
  { hi: gmax2Hi, lo: gmax2Lo, model: gmax2Model },
  { hi: gmed2Hi, lo: gmed2Lo, model: gmed2Model },
];

const BOTTOM_ROWS = [
  [[hams1Dof6, hams1Dof1], [vas1Dof6, vas1Dof1], [rf1Dof6, rf1Dof1], [gas1Dof6, gas1Dof1], [sol1Dof6, sol1Dof1], [gmax1Dof6, gmax1Dof1], [gmed1Dof6, gmed1Dof1]],
  [[hams2Dof6, hams2Dof1], [vas2Dof6, vas2Dof1], [rf2Dof6, rf2Dof1], [gas2Dof6, gas2Dof1], [sol2Dof6, sol2Dof1], [gmax2Dof6, gmax2Dof1], [gmed2Dof6, gmed2Dof1]],
  [[hams3Dof6, hams3Dof1], [vas3Dof6, vas3Dof1], [rf3Dof6, rf3Dof1], [gas3Dof6, gas3Dof1], [sol3Dof6, sol3Dof1], [gmax3Dof6, gmax3Dof1], [gmed3Dof6, gmed3Dof1]],
  [[hams4Dof6, hams4Dof1], [vas4Dof6, vas4Dof1], [rf4Dof6, rf4Dof1], [gas4Dof6, gas4Dof1], [sol4Dof6, sol4Dof1], [gmax4Dof6, gmax4Dof1], [gmed4Dof6, gmed4Dof1]],
];

const FONT = "Lato, 'Open Sans', sans-serif";
const TXT = "#111";
const AXIS = "#555";
const EMG_GRAY = "#808080";
const MODEL_BLUE = "#1e3cff";
const DOF6_BLUE = "#3a8bff";
const DOF1_RED = "#e4421b";

function fmt(v: number) {
  return String(Number(v.toFixed(2)));
}

function buildOption() {
  const grid: any[] = [];
  const xAxis: any[] = [];
  const yAxis: any[] = [];
  const series: any[] = [];
  const graphic: any[] = [];

  const TOP_LEFT = [37, 282, 527, 772, 1017];
  const TOP_TOP = [50, 365];
  const TOP_H = [226, 227];
  const TOP_W = 186;

  TOP_PANELS.forEach((p, i) => {
    const r = Math.floor(i / 5);
    const c = i % 5;
    grid.push({ left: TOP_LEFT[c], top: TOP_TOP[r], width: TOP_W, height: TOP_H[r] });
    xAxis.push({
      type: "value", gridIndex: i, min: -2, max: 102,
      axisLine: { show: true, lineStyle: { color: AXIS, width: 1 } },
      axisTick: { show: true, inside: true, length: 3, customValues: X_TICKS, lineStyle: { color: AXIS } },
      axisLabel: { customValues: X_TICKS, fontFamily: FONT, fontWeight: 900, fontSize: 13, color: TXT, margin: 8 },
      splitLine: { show: false },
      name: r === 1 ? "Gait cycle (%)" : "",
      nameLocation: "middle", nameGap: 39,
      nameTextStyle: { fontFamily: FONT, fontWeight: "bold", fontSize: 13, color: "#222" },
    });
    yAxis.push({
      type: "value", gridIndex: i, min: 0, max: 1, interval: 0.1,
      axisLine: { show: true, lineStyle: { color: AXIS, width: 1 } },
      axisTick: { show: true, inside: true, length: 3, lineStyle: { color: AXIS } },
      axisLabel: {
        fontFamily: FONT, fontWeight: 900, fontSize: 13, color: TXT, margin: 9,
        formatter: (v: number) => (TOP_Y_TICKS.some((t) => Math.abs(t - v) < 1e-6) ? fmt(v) : ""),
      },
      splitLine: { show: false },
    });
    if (p.hi && p.lo) {
      const hi = p.hi;
      const lo = p.lo;
      series.push({
        type: "custom", xAxisIndex: i, yAxisIndex: i, silent: true, z: 1,
        data: X_PCT.map((x, k) => [x, hi[k], lo[k]]),
        encode: { x: 0, y: [1, 2] },
        renderItem: (params: any, api: any) => {
          if (params.dataIndex !== 0) return null;
          const pts: number[][] = [];
          for (let k = 0; k < X_PCT.length; k++) pts.push(api.coord([X_PCT[k], hi[k]]));
          for (let k = X_PCT.length - 1; k >= 0; k--) pts.push(api.coord([X_PCT[k], lo[k]]));
          return { type: "polygon", shape: { points: pts }, style: { fill: EMG_GRAY } };
        },
      });
    }
    series.push({
      type: "line", xAxisIndex: i, yAxisIndex: i, data: p.model, symbol: "none", silent: true, z: 3,
      lineStyle: { color: MODEL_BLUE, width: 3, join: "round" },
    });
    if (r === 0) {
      graphic.push({
        type: "text", x: TOP_LEFT[c] + 91, y: 17,
        style: { text: TOP_TITLES[c], fill: TXT, font: `900 12px ${FONT}`, textAlign: "center", textVerticalAlign: "middle", align: "center", verticalAlign: "middle" },
      });
    }
  });

  // top legend
  graphic.push({ type: "rect", shape: { x: 57, y: 67, width: 36, height: 10 }, style: { fill: EMG_GRAY } });
  graphic.push({ type: "line", shape: { x1: 57, y1: 85, x2: 93, y2: 85 }, style: { stroke: MODEL_BLUE, lineWidth: 3 } });
  graphic.push({ type: "text", x: 94, y: 72, style: { text: "EMG", fill: TXT, font: `900 12px ${FONT}`, textVerticalAlign: "middle", verticalAlign: "middle" } });
  graphic.push({ type: "text", x: 94, y: 85, style: { text: "Model", fill: TXT, font: `900 12px ${FONT}`, textVerticalAlign: "middle", verticalAlign: "middle" } });

  // bottom panels
  const B_LEFT0 = 158;
  const B_DX = 156.4;
  const B_TOP0 = 688;
  const B_DY = 165.5;
  const B_W = 108;
  const B_H = 118;
  BOTTOM_ROWS.forEach((row, r) => {
    row.forEach((pair, c) => {
      const idx = grid.length;
      const left = B_LEFT0 + B_DX * c;
      const top = B_TOP0 + B_DY * r;
      grid.push({ left, top, width: B_W, height: B_H });
      xAxis.push({
        type: "value", gridIndex: idx, min: 0, max: 100, interval: 50,
        axisLine: { show: true, lineStyle: { color: AXIS, width: 1 } },
        axisTick: { show: true, inside: true, length: 2, lineStyle: { color: AXIS } },
        axisLabel: { fontFamily: FONT, fontWeight: 900, fontSize: 10, color: TXT, margin: 6 },
        splitLine: { show: false },
        name: r === 3 ? "Gait cycle (%)" : "",
        nameLocation: "middle", nameGap: 21,
        nameTextStyle: { fontFamily: FONT, fontWeight: "bold", fontSize: 11, color: "#222" },
      });
      const ymax = BOTTOM_YMAX[c];
      yAxis.push({
        type: "value", gridIndex: idx, min: 0, max: ymax, interval: ymax / 4,
        axisLine: { show: true, lineStyle: { color: AXIS, width: 1 } },
        axisTick: { show: true, inside: true, length: 2, lineStyle: { color: AXIS } },
        axisLabel: { fontFamily: FONT, fontWeight: 900, fontSize: 10, color: TXT, margin: 5, formatter: (v: number) => fmt(v) },
        splitLine: { show: false },
        name: c === 0 ? "Force (BW)" : "",
        nameLocation: "middle", nameGap: 24, nameRotate: 90,
        nameTextStyle: { fontFamily: FONT, fontWeight: "bold", fontSize: 10, color: "#222" },
      });
      series.push({
        type: "line", xAxisIndex: idx, yAxisIndex: idx, symbol: "none", silent: true, z: 2,
        data: X_PCT.map((x, k) => [x, pair[0][k]]),
        lineStyle: { color: DOF6_BLUE, width: 1.2 },
      });
      series.push({
        type: "line", xAxisIndex: idx, yAxisIndex: idx, symbol: "none", silent: true, z: 3,
        data: X_PCT.map((x, k) => [x, pair[1][k]]),
        lineStyle: { color: DOF1_RED, width: 1.2 },
      });
      if (r === 0) {
        graphic.push({
          type: "text", x: left + B_W / 2 - 1, y: 678,
          style: { text: BOTTOM_TITLES[c], fill: TXT, font: `900 11px ${FONT}`, textAlign: "center", textVerticalAlign: "middle", align: "center", verticalAlign: "middle" },
        });
      }
    });
    graphic.push({
      type: "text", x: 9, y: 687 + B_DY * r,
      style: { text: ROW_LABELS[r], fill: TXT, font: `bold 14px ${FONT}`, textVerticalAlign: "middle", verticalAlign: "middle" },
    });
  });

  // bottom legend
  graphic.push({ type: "line", shape: { x1: 190, y1: 704.5, x2: 222, y2: 704.5 }, style: { stroke: DOF6_BLUE, lineWidth: 1.2 } });
  graphic.push({ type: "line", shape: { x1: 190, y1: 718, x2: 222, y2: 718 }, style: { stroke: DOF1_RED, lineWidth: 1.2 } });
  graphic.push({ type: "text", x: 228, y: 704.5, style: { text: "6-DOF", fill: TXT, font: `900 9px ${FONT}`, textVerticalAlign: "middle", verticalAlign: "middle" } });
  graphic.push({ type: "text", x: 228, y: 718, style: { text: "1-DOF", fill: TXT, font: `900 9px ${FONT}`, textVerticalAlign: "middle", verticalAlign: "middle" } });

  return {
    animation: false,
    backgroundColor: "#ffffff",
    textStyle: { fontFamily: FONT },
    grid, xAxis, yAxis, series, graphic,
  };
}

export default function App() {
  const ref = useRef<HTMLDivElement>(null);
  useEffect(() => {
    if (!ref.current) return;
    const chart = echarts.init(ref.current, undefined, { renderer: "svg" });
    chart.setOption(buildOption() as any);
    return () => chart.dispose();
  }, []);
  return <div ref={ref} style={{ position: "absolute", left: 0, top: 0, width: 1224, height: 1340, background: "#fff" }} />;
}
